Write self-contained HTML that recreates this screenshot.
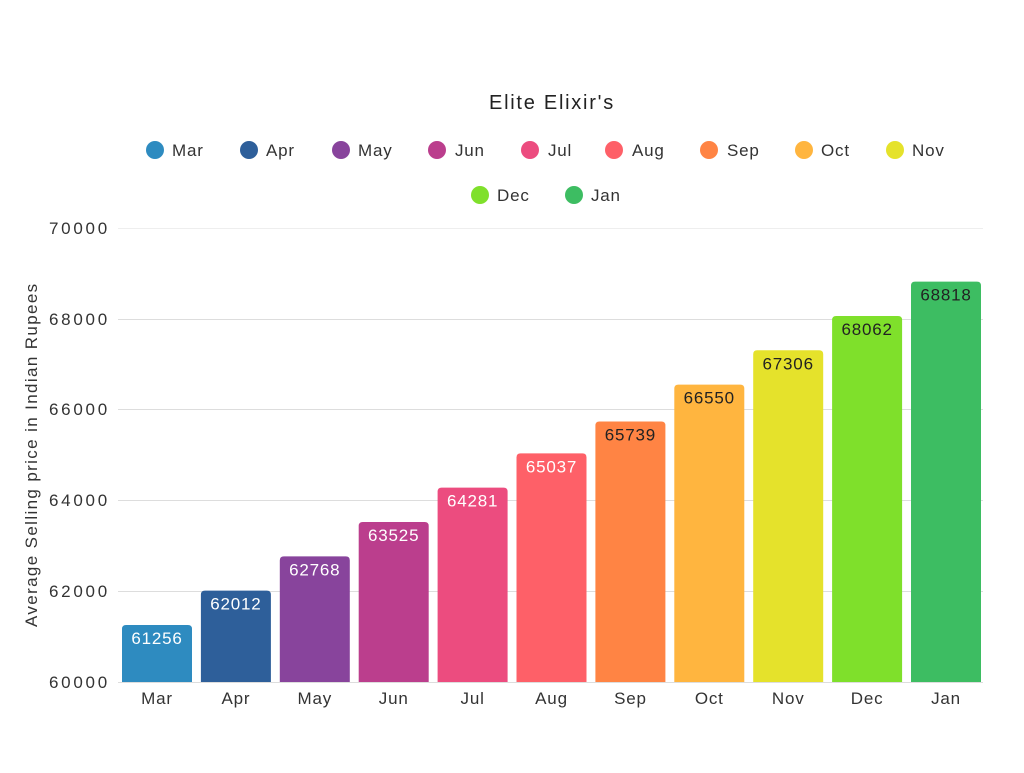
<!DOCTYPE html>
<html><head><meta charset="utf-8"><style>
body{margin:0;background:#fff}
svg text{font-family:"Liberation Sans",sans-serif;letter-spacing:0.8px}
</style></head><body>
<svg width="1024" height="768" xmlns="http://www.w3.org/2000/svg">
<text x="489" y="109" font-size="20" fill="#222" textLength="125">Elite Elixir's</text>
<g font-size="17" fill="#333">
<circle cx="155" cy="150" r="9" fill="#2e8bc0"/><text x="172" y="156">Mar</text>
<circle cx="249" cy="150" r="9" fill="#2e5f9a"/><text x="266" y="156">Apr</text>
<circle cx="341" cy="150" r="9" fill="#88449c"/><text x="358" y="156">May</text>
<circle cx="437" cy="150" r="9" fill="#bb3e8d"/><text x="455" y="156">Jun</text>
<circle cx="530" cy="150" r="9" fill="#ec4c7f"/><text x="548" y="156">Jul</text>
<circle cx="614" cy="150" r="9" fill="#fe6068"/><text x="632" y="156">Aug</text>
<circle cx="709" cy="150" r="9" fill="#ff8444"/><text x="727" y="156">Sep</text>
<circle cx="804" cy="150" r="9" fill="#ffb53f"/><text x="821" y="156">Oct</text>
<circle cx="895" cy="150" r="9" fill="#e5e22b"/><text x="912" y="156">Nov</text>
<circle cx="480" cy="195" r="9" fill="#7fe02b"/><text x="497" y="201">Dec</text>
<circle cx="574" cy="195" r="9" fill="#3dbd62"/><text x="591" y="201">Jan</text>
</g>
<g stroke="#ddd" stroke-width="1">
<line x1="118" x2="983" y1="228.5" y2="228.5" stroke="#eee"/>
<line x1="118" x2="983" y1="319.5" y2="319.5"/>
<line x1="118" x2="983" y1="409.5" y2="409.5"/>
<line x1="118" x2="983" y1="500.5" y2="500.5"/>
<line x1="118" x2="983" y1="591.5" y2="591.5"/>
<line x1="118" x2="983" y1="682.5" y2="682.5"/>
</g>
<g font-size="17" fill="#333">
<text x="49" y="234" textLength="59">70000</text><text x="49" y="325" textLength="59">68000</text><text x="49" y="415" textLength="59">66000</text>
<text x="49" y="506" textLength="59">64000</text><text x="49" y="597" textLength="59">62000</text><text x="49" y="688" textLength="59">60000</text>
</g>
<text transform="translate(37,627) rotate(-90)" font-size="17" fill="#333" textLength="344">Average Selling price in Indian Rupees</text>
<g id="bars"></g>
</svg>
<script>
var d=[["Mar",61256,"#2e8bc0"],["Apr",62012,"#2e5f9a"],["May",62768,"#88449c"],["Jun",63525,"#bb3e8d"],["Jul",64281,"#ec4c7f"],["Aug",65037,"#fe6068"],["Sep",65739,"#ff8444"],["Oct",66550,"#ffb53f"],["Nov",67306,"#e5e22b"],["Dec",68062,"#7fe02b"],["Jan",68818,"#3dbd62"]];
var s="";d.forEach(function(b,i){var x=122+i*78.9,y=682-(b[1]-60000)*0.0454,c=x+35;
s+='<path d="M'+x+' 682V'+(y+4)+'Q'+x+' '+y+' '+(x+4)+' '+y+'H'+(x+66)+'Q'+(x+70)+' '+y+' '+(x+70)+' '+(y+4)+'V682Z" fill="'+b[2]+'"/>';
s+='<text x="'+c+'" y="'+(y+19)+'" font-size="17" text-anchor="middle" fill="'+(i<6?"#fff":"#222")+'">'+b[1]+'</text>';
s+='<text x="'+c+'" y="704" font-size="17" text-anchor="middle" fill="#333">'+b[0]+'</text>';});
document.getElementById("bars").innerHTML=s;
</script>
</body></html>
